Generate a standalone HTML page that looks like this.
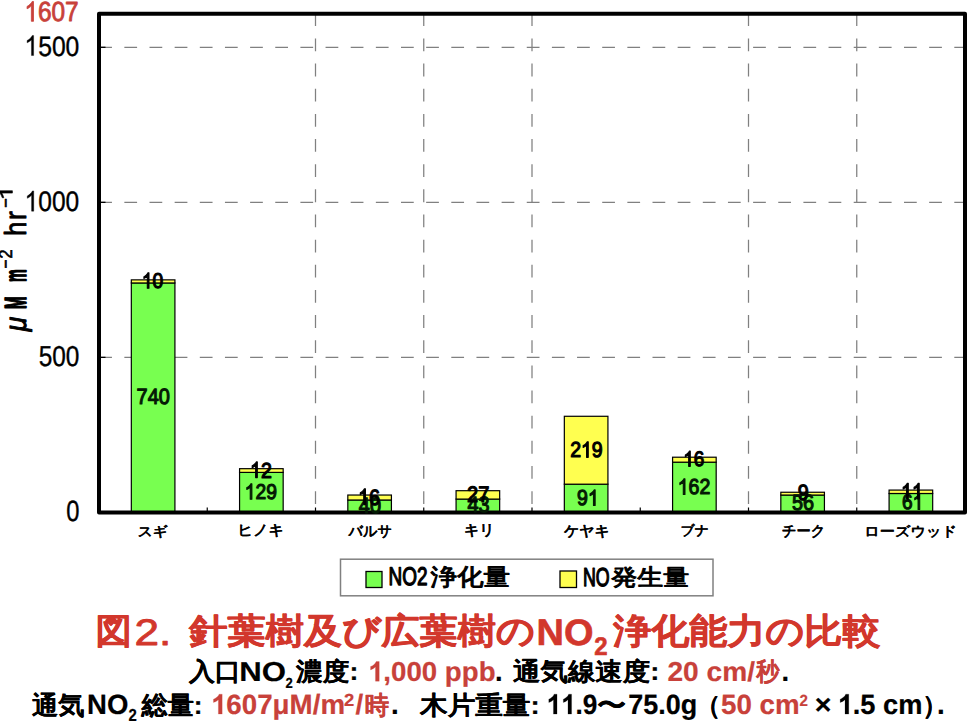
<!DOCTYPE html><html><head><meta charset="utf-8"><style>html,body{margin:0;padding:0;background:#fff;width:975px;height:724px;overflow:hidden}svg{display:block}text{font-family:"Liberation Sans",sans-serif;text-rendering:geometricPrecision}</style></head><body>
<svg width="975" height="724" viewBox="0 0 975 724">
<line x1="99.2" y1="357.38" x2="965" y2="357.38" stroke="#808080" stroke-width="1.25" stroke-dasharray="12.75 12.4"/>
<line x1="99.2" y1="202.35" x2="965" y2="202.35" stroke="#808080" stroke-width="1.25" stroke-dasharray="12.75 12.4"/>
<line x1="99.2" y1="47.32" x2="965" y2="47.32" stroke="#808080" stroke-width="1.25" stroke-dasharray="12.75 12.4"/>
<line x1="315.50" y1="13.3" x2="315.50" y2="512.5" stroke="#808080" stroke-width="1.25" stroke-dasharray="12.8 12.35"/>
<line x1="423.75" y1="13.3" x2="423.75" y2="512.5" stroke="#808080" stroke-width="1.25" stroke-dasharray="12.8 12.35"/>
<line x1="532.00" y1="13.3" x2="532.00" y2="512.5" stroke="#808080" stroke-width="1.25" stroke-dasharray="12.8 12.35"/>
<line x1="748.50" y1="13.3" x2="748.50" y2="512.5" stroke="#808080" stroke-width="1.25" stroke-dasharray="12.8 12.35"/>
<line x1="856.75" y1="13.3" x2="856.75" y2="512.5" stroke="#808080" stroke-width="1.25" stroke-dasharray="12.8 12.35"/>
<line x1="99" y1="357.38" x2="105.5" y2="357.38" stroke="#000" stroke-width="1.3"/>
<line x1="99" y1="202.35" x2="105.5" y2="202.35" stroke="#000" stroke-width="1.3"/>
<line x1="99" y1="47.32" x2="105.5" y2="47.32" stroke="#000" stroke-width="1.3"/>
<line x1="207.25" y1="507.5" x2="207.25" y2="512.5" stroke="#000" stroke-width="1.2"/>
<line x1="315.50" y1="507.5" x2="315.50" y2="512.5" stroke="#000" stroke-width="1.2"/>
<line x1="423.75" y1="507.5" x2="423.75" y2="512.5" stroke="#000" stroke-width="1.2"/>
<line x1="532.00" y1="507.5" x2="532.00" y2="512.5" stroke="#000" stroke-width="1.2"/>
<line x1="640.25" y1="507.5" x2="640.25" y2="512.5" stroke="#000" stroke-width="1.2"/>
<line x1="748.50" y1="507.5" x2="748.50" y2="512.5" stroke="#000" stroke-width="1.2"/>
<line x1="856.75" y1="507.5" x2="856.75" y2="512.5" stroke="#000" stroke-width="1.2"/>
<rect x="131.32" y="282.96" width="43.6" height="229.44" fill="#78ff50" stroke="#000" stroke-width="1.2"/>
<rect x="131.32" y="279.86" width="43.6" height="3.10" fill="#ffff50" stroke="#000" stroke-width="1.2"/>
<rect x="239.57" y="472.40" width="43.6" height="40.00" fill="#78ff50" stroke="#000" stroke-width="1.2"/>
<rect x="239.57" y="468.68" width="43.6" height="3.72" fill="#ffff50" stroke="#000" stroke-width="1.2"/>
<rect x="347.82" y="500.00" width="43.6" height="12.40" fill="#78ff50" stroke="#000" stroke-width="1.2"/>
<rect x="347.82" y="495.04" width="43.6" height="4.96" fill="#ffff50" stroke="#000" stroke-width="1.2"/>
<rect x="456.07" y="499.07" width="43.6" height="13.33" fill="#78ff50" stroke="#000" stroke-width="1.2"/>
<rect x="456.07" y="490.70" width="43.6" height="8.37" fill="#ffff50" stroke="#000" stroke-width="1.2"/>
<rect x="564.33" y="484.19" width="43.6" height="28.21" fill="#78ff50" stroke="#000" stroke-width="1.2"/>
<rect x="564.33" y="416.28" width="43.6" height="67.90" fill="#ffff50" stroke="#000" stroke-width="1.2"/>
<rect x="672.58" y="462.17" width="43.6" height="50.23" fill="#78ff50" stroke="#000" stroke-width="1.2"/>
<rect x="672.58" y="457.21" width="43.6" height="4.96" fill="#ffff50" stroke="#000" stroke-width="1.2"/>
<rect x="780.83" y="495.04" width="43.6" height="17.36" fill="#78ff50" stroke="#000" stroke-width="1.2"/>
<rect x="780.83" y="492.25" width="43.6" height="2.79" fill="#ffff50" stroke="#000" stroke-width="1.2"/>
<rect x="889.08" y="493.49" width="43.6" height="18.91" fill="#78ff50" stroke="#000" stroke-width="1.2"/>
<rect x="889.08" y="490.08" width="43.6" height="3.41" fill="#ffff50" stroke="#000" stroke-width="1.2"/>
<rect x="99" y="13.75" width="866" height="498.75" fill="none" stroke="#000" stroke-width="4" stroke-linejoin="round"/>
<g transform="matrix(0.24386 0 0 0.27614 24.421 21.328)" fill="#c8413a" stroke="#c8413a" stroke-width="3.08" stroke-linejoin="round"><path d="M 37.26 -0.00 H 28.47 V -56.01 Q 25.29 -52.98 20.14 -49.95 T 10.89 -45.41 V -53.91 Q 18.31 -57.37 23.88 -62.30 T 31.74 -71.88 H 37.26 V -0.00 Z"/><text x="55.62" font-size="100">607</text></g>
<g transform="matrix(0.24699 0 0 0.27916 24.411 55.532)" fill="#000" stroke="#000" stroke-width="1.33" stroke-linejoin="round"><path d="M 37.26 -0.00 H 28.47 V -56.01 Q 25.29 -52.98 20.14 -49.95 T 10.89 -45.41 V -53.91 Q 18.31 -57.37 23.88 -62.30 T 31.74 -71.88 H 37.26 V -0.00 Z"/><text x="55.62" font-size="100">500</text></g>
<g transform="matrix(0.24535 0 0 0.28214 24.596 211.170)" fill="#000" stroke="#000" stroke-width="1.33" stroke-linejoin="round"><path d="M 37.26 -0.00 H 28.47 V -56.01 Q 25.29 -52.98 20.14 -49.95 T 10.89 -45.41 V -53.91 Q 18.31 -57.37 23.88 -62.30 T 31.74 -71.88 H 37.26 V -0.00 Z"/><text x="55.62" font-size="100">000</text></g>
<g transform="matrix(0.24438 0 0 0.28805 38.683 365.912)" fill="#000" stroke="#000" stroke-width="1.32" stroke-linejoin="round"><text font-size="100">500</text></g>
<g transform="matrix(0.23736 0 0 0.29271 66.162 521.065)" fill="#000" stroke="#000" stroke-width="1.33" stroke-linejoin="round"><text font-size="100">0</text></g>
<g transform="matrix(0.19959 0 0 0.22177 136.620 404.277)" fill="#041a04" stroke="#041a04" stroke-width="5.23" stroke-linejoin="round"><text font-size="100">740</text></g>
<g transform="matrix(0.19232 0 0 0.21369 141.813 288.205)" fill="#000" stroke="#000" stroke-width="5.43" stroke-linejoin="round"><path d="M 37.26 -0.00 H 28.47 V -56.01 Q 25.29 -52.98 20.14 -49.95 T 10.89 -45.41 V -53.91 Q 18.31 -57.37 23.88 -62.30 T 31.74 -71.88 H 37.26 V -0.00 Z"/><text x="55.62" font-size="100">0</text></g>
<g transform="matrix(0.19260 0 0 0.21400 244.722 499.143)" fill="#041a04" stroke="#041a04" stroke-width="5.42" stroke-linejoin="round"><path d="M 37.26 -0.00 H 28.47 V -56.01 Q 25.29 -52.98 20.14 -49.95 T 10.89 -45.41 V -53.91 Q 18.31 -57.37 23.88 -62.30 T 31.74 -71.88 H 37.26 V -0.00 Z"/><text x="55.62" font-size="100">29</text></g>
<g transform="matrix(0.19598 0 0 0.21775 250.025 477.581)" fill="#000" stroke="#000" stroke-width="5.32" stroke-linejoin="round"><path d="M 37.26 -0.00 H 28.47 V -56.01 Q 25.29 -52.98 20.14 -49.95 T 10.89 -45.41 V -53.91 Q 18.31 -57.37 23.88 -62.30 T 31.74 -71.88 H 37.26 V -0.00 Z"/><text x="55.62" font-size="100">2</text></g>
<g transform="matrix(0.19959 0 0 0.22177 358.871 513.343)" fill="#041a04" stroke="#041a04" stroke-width="5.23" stroke-linejoin="round"><text font-size="100">40</text></g>
<g transform="matrix(0.19760 0 0 0.21956 358.096 504.557)" fill="#000" stroke="#000" stroke-width="5.28" stroke-linejoin="round"><path d="M 37.26 -0.00 H 28.47 V -56.01 Q 25.29 -52.98 20.14 -49.95 T 10.89 -45.41 V -53.91 Q 18.31 -57.37 23.88 -62.30 T 31.74 -71.88 H 37.26 V -0.00 Z"/><text x="55.62" font-size="100">6</text></g>
<g transform="matrix(0.19937 0 0 0.22152 467.397 512.493)" fill="#041a04" stroke="#041a04" stroke-width="5.23" stroke-linejoin="round"><text font-size="100">43</text></g>
<g transform="matrix(0.20135 0 0 0.22372 466.932 502.217)" fill="#000" stroke="#000" stroke-width="5.18" stroke-linejoin="round"><text font-size="100">27</text></g>
<g transform="matrix(0.19497 0 0 0.21663 577.049 505.457)" fill="#041a04" stroke="#041a04" stroke-width="5.35" stroke-linejoin="round"><text x="0.00" font-size="100">9</text><path d="M 92.87 -0.00 H 84.08 V -56.01 Q 80.91 -52.98 75.76 -49.95 T 66.50 -45.41 V -53.91 Q 73.93 -57.37 79.49 -62.30 T 87.35 -71.88 H 92.87 V -0.00 Z"/></g>
<g transform="matrix(0.19486 0 0 0.21652 570.173 457.313)" fill="#000" stroke="#000" stroke-width="5.36" stroke-linejoin="round"><text x="0.00" font-size="100">2</text><path d="M 92.87 -0.00 H 84.08 V -56.01 Q 80.91 -52.98 75.76 -49.95 T 66.50 -45.41 V -53.91 Q 73.93 -57.37 79.49 -62.30 T 87.35 -71.88 H 92.87 V -0.00 Z"/><text x="111.23" font-size="100">9</text></g>
<g transform="matrix(0.19497 0 0 0.21663 677.725 494.430)" fill="#041a04" stroke="#041a04" stroke-width="5.35" stroke-linejoin="round"><path d="M 37.26 -0.00 H 28.47 V -56.01 Q 25.29 -52.98 20.14 -49.95 T 10.89 -45.41 V -53.91 Q 18.31 -57.37 23.88 -62.30 T 31.74 -71.88 H 37.26 V -0.00 Z"/><text x="55.62" font-size="100">62</text></g>
<g transform="matrix(0.18934 0 0 0.21038 683.250 466.304)" fill="#000" stroke="#000" stroke-width="5.51" stroke-linejoin="round"><path d="M 37.26 -0.00 H 28.47 V -56.01 Q 25.29 -52.98 20.14 -49.95 T 10.89 -45.41 V -53.91 Q 18.31 -57.37 23.88 -62.30 T 31.74 -71.88 H 37.26 V -0.00 Z"/><text x="55.62" font-size="100">6</text></g>
<g transform="matrix(0.19835 0 0 0.22039 791.876 510.452)" fill="#041a04" stroke="#041a04" stroke-width="5.26" stroke-linejoin="round"><text font-size="100">56</text></g>
<g transform="matrix(0.19861 0 0 0.22068 797.629 500.139)" fill="#000" stroke="#000" stroke-width="5.25" stroke-linejoin="round"><text font-size="100">9</text></g>
<g transform="matrix(0.19023 0 0 0.21136 902.062 509.394)" fill="#041a04" stroke="#041a04" stroke-width="5.49" stroke-linejoin="round"><text x="0.00" font-size="100">6</text><path d="M 92.87 -0.00 H 84.08 V -56.01 Q 80.91 -52.98 75.76 -49.95 T 66.50 -45.41 V -53.91 Q 73.93 -57.37 79.49 -62.30 T 87.35 -71.88 H 92.87 V -0.00 Z"/></g>
<g transform="matrix(0.19615 0 0 0.21795 900.992 498.974)" fill="#000" stroke="#000" stroke-width="5.32" stroke-linejoin="round"><path d="M 37.26 -0.00 H 28.47 V -56.01 Q 25.29 -52.98 20.14 -49.95 T 10.89 -45.41 V -53.91 Q 18.31 -57.37 23.88 -62.30 T 31.74 -71.88 H 37.26 V -0.00 Z"/><path d="M 92.87 -0.00 H 84.08 V -56.01 Q 80.91 -52.98 75.76 -49.95 T 66.50 -45.41 V -53.91 Q 73.93 -57.37 79.49 -62.30 T 87.35 -71.88 H 92.87 V -0.00 Z"/></g>
<g transform="matrix(0.14718 0 0 0.13541 137.723 535.745)" fill="#000" stroke="#000" stroke-width="0.71" stroke-linejoin="round"><text font-size="100" font-weight="bold">スギ</text></g>
<g transform="matrix(0.15130 0 0 0.14778 237.603 535.450)" fill="#000" stroke="#000" stroke-width="0.67" stroke-linejoin="round"><text font-size="100" font-weight="bold">ヒノキ</text></g>
<g transform="matrix(0.14152 0 0 0.14636 348.444 535.950)" fill="#000" stroke="#000" stroke-width="0.69" stroke-linejoin="round"><text font-size="100" font-weight="bold">バルサ</text></g>
<g transform="matrix(0.14904 0 0 0.14887 463.897 535.372)" fill="#000" stroke="#000" stroke-width="0.67" stroke-linejoin="round"><text font-size="100" font-weight="bold">キリ</text></g>
<g transform="matrix(0.14900 0 0 0.14889 564.044 535.516)" fill="#000" stroke="#000" stroke-width="0.67" stroke-linejoin="round"><text font-size="100" font-weight="bold">ケヤキ</text></g>
<g transform="matrix(0.13920 0 0 0.13349 680.391 535.468)" fill="#000" stroke="#000" stroke-width="0.73" stroke-linejoin="round"><text font-size="100" font-weight="bold">ブナ</text></g>
<g transform="matrix(0.14285 0 0 0.14987 781.937 535.716)" fill="#000" stroke="#000" stroke-width="0.68" stroke-linejoin="round"><text font-size="100" font-weight="bold">チーク</text></g>
<g transform="matrix(0.15166 0 0 0.13790 864.333 536.328)" fill="#000" stroke="#000" stroke-width="0.69" stroke-linejoin="round"><text font-size="100" font-weight="bold">ローズウッド</text></g>
<g transform="matrix(0.18978 0 0 0.25440 388.607 584.843)" fill="#000" stroke="#000" stroke-width="5.01" stroke-linejoin="round"><text font-size="100">NO2</text></g>
<g transform="matrix(0.26529 0 0 0.23437 430.542 585.420)" fill="#000" stroke="#000" stroke-width="4.41" stroke-linejoin="round"><text font-size="100">浄化量</text></g>
<g transform="matrix(0.17738 0 0 0.26059 582.926 586.053)" fill="#000" stroke="#000" stroke-width="5.12" stroke-linejoin="round"><text font-size="100">NO</text></g>
<g transform="matrix(0.25982 0 0 0.22764 611.323 585.433)" fill="#000" stroke="#000" stroke-width="4.52" stroke-linejoin="round"><text font-size="100">発生量</text></g>
<g transform="matrix(0.36022 0 0 0.35161 95.717 643.277)" fill="#d2372c" stroke="#d2372c" stroke-width="1.69" stroke-linejoin="round"><text font-size="100" font-weight="bold">図</text></g>
<g transform="matrix(0.44174 0 0 0.36957 134.384 644.900)" fill="#d2372c" stroke="#d2372c" stroke-width="2.23" stroke-linejoin="round"><text font-size="100">2.</text></g>
<g transform="matrix(0.38226 0 0 0.35161 189.335 643.277)" fill="#d2372c" stroke="#d2372c" stroke-width="1.64" stroke-linejoin="round"><text font-size="100" font-weight="bold">針葉樹及び広葉樹の</text></g>
<g transform="matrix(0.37979 0 0 0.36957 536.458 644.900)" fill="#d2372c" stroke="#d2372c" stroke-width="1.60" stroke-linejoin="round"><text font-size="100" font-weight="bold">NO</text></g>
<g transform="matrix(0.24029 0 0 0.25465 594.218 655.395)" fill="#d2372c" stroke="#d2372c" stroke-width="2.43" stroke-linejoin="round"><text font-size="100" font-weight="bold">2</text></g>
<g transform="matrix(0.38060 0 0 0.35161 613.174 643.277)" fill="#d2372c" stroke="#d2372c" stroke-width="1.64" stroke-linejoin="round"><text font-size="100" font-weight="bold">浄化能力の比較</text></g>
<g transform="matrix(0.25922 0 0 0.25082 188.886 679.979)" fill="#000" stroke="#000" stroke-width="0.86" stroke-linejoin="round"><text font-size="100" font-weight="bold">入口</text></g>
<g transform="matrix(0.31164 0 0 0.27391 239.361 681.200)" fill="#000" stroke="#000" stroke-width="0.68" stroke-linejoin="round"><text font-size="100" font-weight="bold">NO</text></g>
<g transform="matrix(0.13106 0 0 0.14531 285.403 687.747)" fill="#000" stroke="#000" stroke-width="1.45" stroke-linejoin="round"><text font-size="100" font-weight="bold">2</text></g>
<g transform="matrix(0.26668 0 0 0.25082 296.112 679.979)" fill="#000" stroke="#000" stroke-width="0.85" stroke-linejoin="round"><text font-size="100" font-weight="bold">濃度:</text></g>
<g transform="matrix(0.27660 0 0 0.27391 367.955 681.200)" fill="#c8413a" stroke="#c8413a" stroke-width="0.73" stroke-linejoin="round"><path d="M 40.82 -0.00 H 27.10 V -51.71 Q 19.58 -44.68 9.38 -41.31 V -53.76 Q 14.75 -55.52 21.04 -60.40 T 29.69 -71.78 H 40.82 V -0.00 Z"/><text x="55.62" font-size="100" font-weight="bold">,000 ppb</text></g>
<g transform="matrix(0.27391 0 0 0.27391 494.959 681.200)" fill="#000" stroke="#000" stroke-width="0.73" stroke-linejoin="round"><text font-size="100" font-weight="bold">.</text></g>
<g transform="matrix(0.27442 0 0 0.25082 513.045 679.979)" fill="#000" stroke="#000" stroke-width="0.84" stroke-linejoin="round"><text font-size="100" font-weight="bold">通気線速度:</text></g>
<g transform="matrix(0.28128 0 0 0.27391 667.428 681.200)" fill="#c8413a" stroke="#c8413a" stroke-width="0.72" stroke-linejoin="round"><text font-size="100" font-weight="bold">20 cm/</text></g>
<g transform="matrix(0.23226 0 0 0.25082 756.359 679.979)" fill="#c8413a" stroke="#c8413a" stroke-width="0.91" stroke-linejoin="round"><text font-size="100" font-weight="bold">秒</text></g>
<g transform="matrix(0.27391 0 0 0.27391 781.486 681.200)" fill="#000" stroke="#000" stroke-width="0.73" stroke-linejoin="round"><text font-size="100" font-weight="bold">.</text></g>
<g transform="matrix(0.26282 0 0 0.25453 32.002 713.845)" fill="#000" stroke="#000" stroke-width="0.85" stroke-linejoin="round"><text font-size="100" font-weight="bold">通気</text></g>
<g transform="matrix(0.27566 0 0 0.27826 87.041 714.100)" fill="#000" stroke="#000" stroke-width="0.72" stroke-linejoin="round"><text font-size="100" font-weight="bold">NO</text></g>
<g transform="matrix(0.14926 0 0 0.17371 128.575 721.349)" fill="#000" stroke="#000" stroke-width="1.24" stroke-linejoin="round"><text font-size="100" font-weight="bold">2</text></g>
<g transform="matrix(0.26147 0 0 0.25453 141.495 713.845)" fill="#000" stroke="#000" stroke-width="0.85" stroke-linejoin="round"><text font-size="100" font-weight="bold">総量:</text></g>
<g transform="matrix(0.27760 0 0 0.27826 210.853 714.100)" fill="#c8413a" stroke="#c8413a" stroke-width="0.72" stroke-linejoin="round"><path d="M 40.82 -0.00 H 27.10 V -51.71 Q 19.58 -44.68 9.38 -41.31 V -53.76 Q 14.75 -55.52 21.04 -60.40 T 29.69 -71.78 H 40.82 V -0.00 Z"/><text x="55.62" font-size="100" font-weight="bold">607μM/m</text></g>
<g transform="matrix(0.18430 0 0 0.17508 343.919 705.950)" fill="#c8413a" stroke="#c8413a" stroke-width="1.11" stroke-linejoin="round"><text font-size="100" font-weight="bold">2</text></g>
<g transform="matrix(0.27826 0 0 0.27826 355.618 714.100)" fill="#c8413a" stroke="#c8413a" stroke-width="0.72" stroke-linejoin="round"><text font-size="100" font-weight="bold">/</text></g>
<g transform="matrix(0.24369 0 0 0.25453 364.738 713.845)" fill="#c8413a" stroke="#c8413a" stroke-width="0.88" stroke-linejoin="round"><text font-size="100" font-weight="bold">時</text></g>
<g transform="matrix(0.27826 0 0 0.27826 390.904 714.100)" fill="#000" stroke="#000" stroke-width="0.72" stroke-linejoin="round"><text font-size="100" font-weight="bold">.</text></g>
<g transform="matrix(0.27608 0 0 0.25453 420.040 713.845)" fill="#000" stroke="#000" stroke-width="0.83" stroke-linejoin="round"><text font-size="100" font-weight="bold">木片重量:</text></g>
<g transform="matrix(0.26157 0 0 0.27826 546.348 714.100)" fill="#000" stroke="#000" stroke-width="0.74" stroke-linejoin="round"><path d="M 40.82 -0.00 H 27.10 V -51.71 Q 19.58 -44.68 9.38 -41.31 V -53.76 Q 14.75 -55.52 21.04 -60.40 T 29.69 -71.78 H 40.82 V -0.00 Z"/><path d="M 96.44 -0.00 H 82.71 V -51.71 Q 75.20 -44.68 64.99 -41.31 V -53.76 Q 70.36 -55.52 76.66 -60.40 T 85.30 -71.78 H 96.44 V -0.00 Z"/><text x="111.23" font-size="100" font-weight="bold">.9</text></g>
<g transform="matrix(0.29038 0 0 0.25453 597.038 713.845)" fill="#000" stroke="#000" stroke-width="0.81" stroke-linejoin="round"><text font-size="100" font-weight="bold">〜</text></g>
<g transform="matrix(0.26979 0 0 0.27826 628.270 714.100)" fill="#000" stroke="#000" stroke-width="0.73" stroke-linejoin="round"><text font-size="100" font-weight="bold">75.0g</text></g>
<g transform="matrix(0.25453 0 0 0.25453 695.165 713.845)" fill="#000" stroke="#000" stroke-width="0.86" stroke-linejoin="round"><text font-size="100" font-weight="bold">（</text></g>
<g transform="matrix(0.27714 0 0 0.27826 720.976 714.100)" fill="#c8413a" stroke="#c8413a" stroke-width="0.72" stroke-linejoin="round"><text font-size="100" font-weight="bold">50 cm</text></g>
<g transform="matrix(0.15095 0 0 0.16180 799.491 705.746)" fill="#c8413a" stroke="#c8413a" stroke-width="1.28" stroke-linejoin="round"><text font-size="100" font-weight="bold">2</text></g>
<g transform="matrix(0.28602 0 0 0.27826 814.695 714.100)" fill="#000" stroke="#000" stroke-width="0.71" stroke-linejoin="round"><text font-size="100" font-weight="bold">×</text></g>
<g transform="matrix(0.27255 0 0 0.27826 837.635 714.100)" fill="#000" stroke="#000" stroke-width="0.73" stroke-linejoin="round"><path d="M 40.82 -0.00 H 27.10 V -51.71 Q 19.58 -44.68 9.38 -41.31 V -53.76 Q 14.75 -55.52 21.04 -60.40 T 29.69 -71.78 H 40.82 V -0.00 Z"/><text x="55.62" font-size="100" font-weight="bold">.5 cm</text></g>
<g transform="matrix(0.25453 0 0 0.25453 922.222 713.845)" fill="#000" stroke="#000" stroke-width="0.86" stroke-linejoin="round"><text font-size="100" font-weight="bold">）</text></g>
<g transform="matrix(0.27826 0 0 0.27826 936.955 714.100)" fill="#000" stroke="#000" stroke-width="0.72" stroke-linejoin="round"><text font-size="100" font-weight="bold">.</text></g>
<rect x="340.5" y="559.2" width="372.5" height="36.6" fill="none" stroke="#808080" stroke-width="1.5"/>
<rect x="366" y="571.5" width="16" height="16" fill="#78ff50" stroke="#000" stroke-width="1.3"/>
<rect x="560" y="571" width="16.5" height="16.5" fill="#ffff50" stroke="#000" stroke-width="1.3"/>
<g transform="translate(26.2,0) rotate(-90)">
<g transform="matrix(0.26364 0 0 0.30435 -331.373 0.000)" fill="#000" stroke="#000" stroke-width="3.53" stroke-linejoin="round"><text font-size="100" font-style="italic">μ</text></g>
<g transform="matrix(0.15000 0 0 0.30435 -309.100 0.000)" fill="#000" stroke="#000" stroke-width="5.15" stroke-linejoin="round"><text font-size="100" font-weight="bold">M</text></g>
<g transform="matrix(0.14474 0 0 0.30435 -281.963 0.000)" fill="#000" stroke="#000" stroke-width="5.24" stroke-linejoin="round"><text font-size="100" font-weight="bold">m</text></g>
<g transform="matrix(0.15510 0 0 0.18870 -268.476 -13.800)" fill="#000" stroke="#000" stroke-width="3.51" stroke-linejoin="round"><text font-size="100">−</text></g>
<g transform="matrix(0.16087 0 0 0.18870 -258.504 -13.800)" fill="#000" stroke="#000" stroke-width="3.44" stroke-linejoin="round"><text font-size="100">2</text></g>
<g transform="matrix(0.25000 0 0 0.30435 -235.650 0.000)" fill="#000" stroke="#000" stroke-width="2.90" stroke-linejoin="round"><text font-size="100">h</text></g>
<g transform="matrix(0.26800 0 0 0.30435 -219.976 0.000)" fill="#000" stroke="#000" stroke-width="2.80" stroke-linejoin="round"><text font-size="100">r</text></g>
<g transform="matrix(0.16531 0 0 0.18870 -207.827 -13.800)" fill="#000" stroke="#000" stroke-width="3.40" stroke-linejoin="round"><text font-size="100">−</text></g>
<g transform="matrix(0.26538 0 0 0.18870 -200.619 -13.800)" fill="#000" stroke="#000" stroke-width="2.68" stroke-linejoin="round"><path d="M 37.26 -0.00 H 28.47 V -56.01 Q 25.29 -52.98 20.14 -49.95 T 10.89 -45.41 V -53.91 Q 18.31 -57.37 23.88 -62.30 T 31.74 -71.88 H 37.26 V -0.00 Z"/></g>
</g>
</svg></body></html>
